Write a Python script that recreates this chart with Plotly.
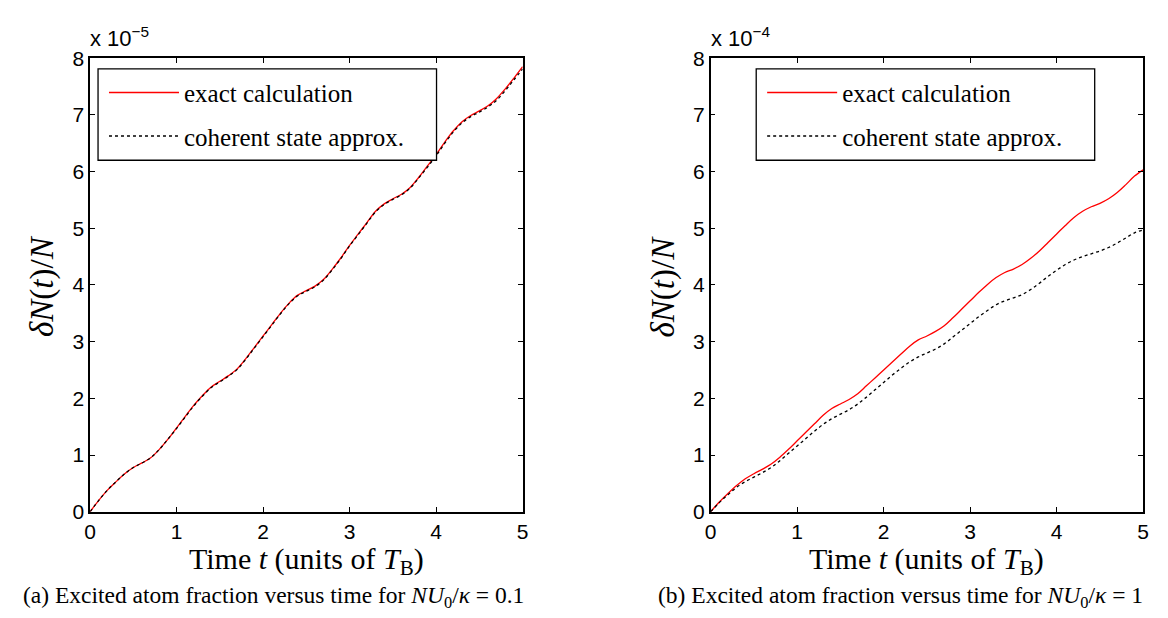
import plotly.graph_objects as go
from plotly.subplots import make_subplots

# Time in units of the Bloch period T_B
t = [0.0, 0.1, 0.2, 0.3, 0.4, 0.5, 0.6, 0.7, 0.8, 0.9,
     1.0, 1.1, 1.2, 1.3, 1.4, 1.5, 1.6, 1.7, 1.8, 1.9,
     2.0, 2.1, 2.2, 2.3, 2.4, 2.5, 2.6, 2.7, 2.8, 2.9,
     3.0, 3.1, 3.2, 3.3, 3.4, 3.5, 3.6, 3.7, 3.8, 3.9,
     4.0, 4.1, 4.2, 4.3, 4.4, 4.5, 4.6, 4.7, 4.8, 4.9, 5.0]

# (a) NU0/kappa = 0.1, values in units of 1e-5
exact_a = [0.00, 0.20, 0.38, 0.53, 0.67, 0.78, 0.86, 0.95, 1.10, 1.28,
           1.48, 1.68, 1.88, 2.05, 2.20, 2.30, 2.40, 2.52, 2.70, 2.90,
           3.10, 3.30, 3.50, 3.68, 3.82, 3.90, 3.98, 4.10, 4.28, 4.48,
           4.70, 4.90, 5.10, 5.30, 5.43, 5.52, 5.60, 5.72, 5.90, 6.10,
           6.30, 6.52, 6.72, 6.88, 6.99, 7.07, 7.16, 7.29, 7.46, 7.65, 7.85]
coherent_a = [0.00, 0.20, 0.38, 0.53, 0.67, 0.78, 0.86, 0.95, 1.10, 1.28,
              1.47, 1.67, 1.87, 2.04, 2.19, 2.29, 2.39, 2.51, 2.69, 2.89,
              3.09, 3.29, 3.49, 3.67, 3.81, 3.89, 3.97, 4.09, 4.27, 4.47,
              4.69, 4.89, 5.09, 5.29, 5.42, 5.51, 5.59, 5.71, 5.89, 6.08,
              6.28, 6.50, 6.70, 6.86, 6.97, 7.05, 7.14, 7.26, 7.43, 7.62, 7.81]

# (b) NU0/kappa = 1, values in units of 1e-4
exact_b = [0.00, 0.17, 0.32, 0.46, 0.58, 0.67, 0.75, 0.84, 0.96, 1.10,
           1.25, 1.40, 1.55, 1.70, 1.82, 1.90, 1.98, 2.08, 2.22, 2.36,
           2.50, 2.64, 2.78, 2.92, 3.03, 3.10, 3.18, 3.28, 3.42, 3.57,
           3.72, 3.87, 4.01, 4.13, 4.22, 4.28, 4.36, 4.47, 4.60, 4.75,
           4.90, 5.05, 5.19, 5.30, 5.38, 5.44, 5.52, 5.63, 5.77, 5.92, 6.03]
coherent_b = [0.00, 0.16, 0.30, 0.43, 0.53, 0.61, 0.69, 0.78, 0.90, 1.03,
              1.16, 1.29, 1.42, 1.54, 1.64, 1.72, 1.80, 1.90, 2.02, 2.15,
              2.28, 2.41, 2.53, 2.64, 2.73, 2.80, 2.87, 2.96, 3.08, 3.20,
              3.32, 3.44, 3.55, 3.65, 3.72, 3.77, 3.83, 3.92, 4.03, 4.15,
              4.26, 4.36, 4.44, 4.50, 4.55, 4.60, 4.66, 4.74, 4.83, 4.92, 4.97]

x_ticks = [0, 1, 2, 3, 4, 5]
y_ticks = [0, 1, 2, 3, 4, 5, 6, 7, 8]
exponents = ["\u22125", "\u22124"]
captions = [
    "(a) Excited atom fraction versus time for <i>NU</i><sub>0</sub>/<i>\u03ba</i> = 0.1",
    "(b) Excited atom fraction versus time for <i>NU</i><sub>0</sub>/<i>\u03ba</i> = 1",
]
series_names = ["exact calculation", "coherent state approx."]

SERIF = "Liberation Serif, Times New Roman, serif"
SANS = "Liberation Sans, Arial, sans-serif"
W, H = 1168, 618

fig = make_subplots(rows=1, cols=2)

panels = [(exact_a, coherent_a, "legend"), (exact_b, coherent_b, "legend2")]
for col, (ex, co, leg) in enumerate(panels, start=1):
    fig.add_trace(go.Scatter(
        x=t, y=ex, mode="lines", name=series_names[0], legend=leg,
        legendgroup=f"ex{col}", line=dict(color="#ff0000", width=1.3, shape="spline"),
    ), row=1, col=col)
    fig.add_trace(go.Scatter(
        x=t, y=co, mode="lines", name=series_names[1], legend=leg,
        legendgroup=f"co{col}", line=dict(color="#000000", width=1.3, dash="3px,3px", shape="spline"),
    ), row=1, col=col)

# axis box geometry in pixels
x_px = [(85, 522), (712, 1149)]
y_top, y_bot = 48, 519

axis_style = dict(
    showline=True, linecolor="#000000", linewidth=1.5, mirror="allticks",
    ticks="inside", ticklen=5, tickwidth=1, tickcolor="#000000",
    showgrid=False, zeroline=False,
    tickfont=dict(family=SANS, size=21, color="#000000"),
)
for i, (x0, x1) in enumerate(x_px, start=1):
    xa = "xaxis" if i == 1 else f"xaxis{i}"
    ya = "yaxis" if i == 1 else f"yaxis{i}"
    fig.update_layout(**{
        xa: dict(domain=[x0 / W, x1 / W], range=[0, 5], tickvals=x_ticks, **axis_style),
        ya: dict(domain=[1 - y_bot / H, 1 - y_top / H], range=[0, 8], tickvals=y_ticks, **axis_style),
    })

legend_style = dict(
    font=dict(family=SERIF, size=25, color="#000000"),
    bgcolor="rgba(0,0,0,0)", borderwidth=0, itemwidth=70,
    tracegroupgap=8, xanchor="left", yanchor="top",
)
leg_left = [93, 758]
fig.update_layout(
    legend=dict(x=(leg_left[0] + 6) / W, y=1 - 60 / H, **legend_style),
    legend2=dict(x=(leg_left[1] + 6) / W, y=1 - 60 / H, **legend_style),
)

shapes = []
annotations = []
for i, (x0, x1) in enumerate(x_px):
    # legend frame
    shapes.append(dict(type="rect", xref="paper", yref="paper",
                       x0=leg_left[i] / W, x1=(leg_left[i] + 342) / W,
                       y0=1 - 154 / H, y1=1 - 59 / H,
                       line=dict(color="#000000", width=1.3), fillcolor="#ffffff",
                       layer="above"))
    cx = (x0 + x1) / 2
    # exponent multiplier above the y axis
    annotations.append(dict(text=f"x 10<sup>{exponents[i]}</sup>", x=(x0 - 2) / W, y=1 - 43 / H,
                            xref="paper", yref="paper", xanchor="left", yanchor="bottom",
                            showarrow=False, font=dict(family=SANS, size=22, color="#000000")))
    # x axis title
    annotations.append(dict(text="Time <i>t</i> (units of <i>T</i><sub>B</sub>)",
                            x=cx / W, y=1 - 570 / H, xref="paper", yref="paper",
                            xanchor="center", yanchor="middle", showarrow=False,
                            font=dict(family=SERIF, size=30, color="#000000")))
    # y axis title
    annotations.append(dict(text="<i>\u03b4N</i>(<i>t</i>)/<i>N</i>",
                            x=(x0 - 48) / W, y=1 - 285 / H, xref="paper", yref="paper",
                            xanchor="center", yanchor="middle", textangle=-90, showarrow=False,
                            font=dict(family=SERIF, size=33, color="#000000")))
cap_x = [270, 904]
for i, cap in enumerate(captions):
    annotations.append(dict(text=cap, x=cap_x[i] / W, y=1 - 608 / H, xref="paper", yref="paper",
                            xanchor="center", yanchor="middle", showarrow=False,
                            font=dict(family=SERIF, size=23.5, color="#000000")))

fig.update_layout(
    width=W, height=H, margin=dict(l=0, r=0, t=0, b=0),
    paper_bgcolor="#ffffff", plot_bgcolor="#ffffff",
    font=dict(family=SERIF, color="#000000"),
    shapes=shapes, annotations=annotations,
)

fig.write_html("out.html")
